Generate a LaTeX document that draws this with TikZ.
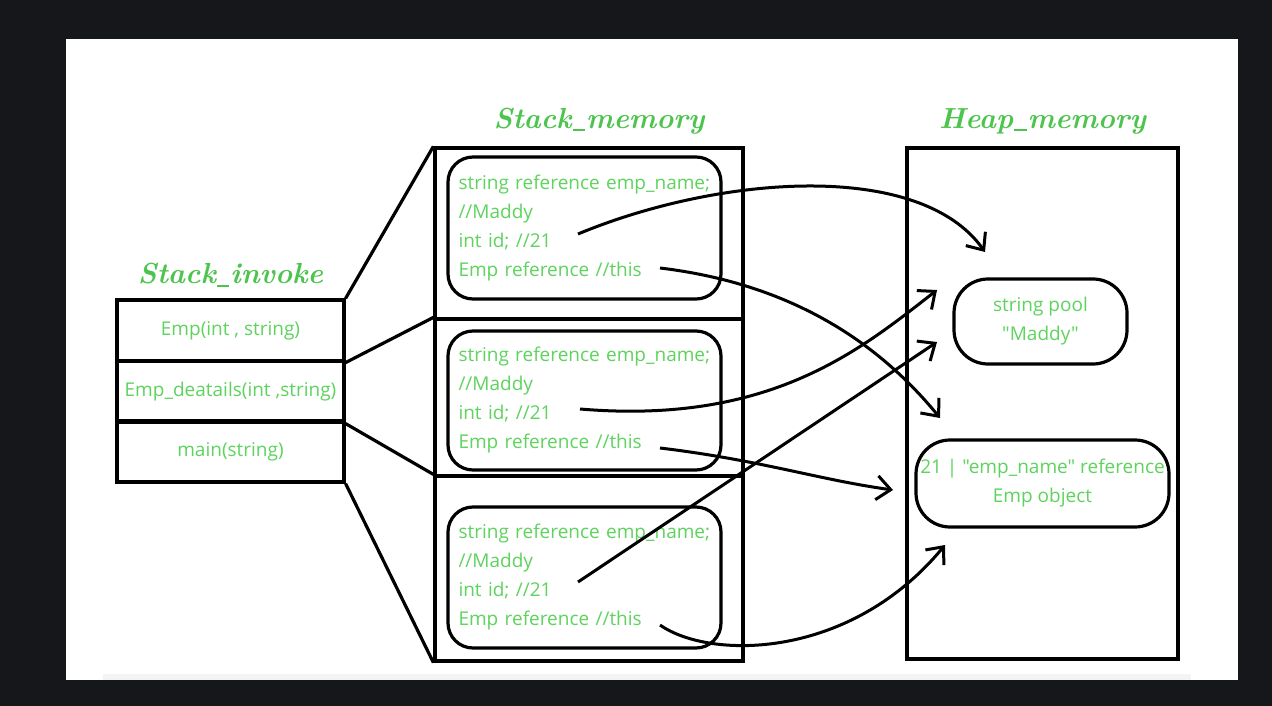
\documentclass[tikz,border=0pt]{standalone}
\usepackage{fontspec}
\usepackage{xcolor}
\usetikzlibrary{positioning}
\usetikzlibrary{arrows.meta}
\newfontfamily\bodyfont{Open Sans}
\definecolor{cgreen}{HTML}{5ED35E}
\definecolor{ctitle}{HTML}{4DC44D}
\definecolor{cdark}{HTML}{16171B}
\definecolor{cstrip}{HTML}{F4F4F4}
\newcommand{\uscore}{\kern0.04em\rule[-0.1em]{0.42em}{0.06em}\kern0.04em}

\begin{document}
\begin{tikzpicture}[x=1pt, y=-1pt]
    \tikzset{
        callrow/.style={rectangle, draw, line width=3.2pt, minimum width=227pt, minimum height=61pt, inner sep=0pt, font=\bodyfont\fontsize{19}{22}\selectfont, text=cgreen},
        memframe/.style={rectangle, draw, line width=3.2pt, minimum width=308pt, inner sep=0pt},
        slot/.style={rectangle, rounded corners=25pt, draw, line width=3.2pt, minimum width=273pt, text width=260pt, align=left, inner sep=0pt, execute at begin node={\leftskip=4pt}, font=\bodyfont\fontsize{19}{29}\selectfont, text=cgreen},
        heapobj/.style={rectangle, rounded corners=34pt, draw, line width=3.2pt, align=center, inner sep=0pt, font=\bodyfont\fontsize{19}{29}\selectfont, text=cgreen},
        memtitle/.style={font=\fontsize{29}{30}\selectfont\bfseries\itshape, text=ctitle},
        link/.style={draw, line width=3.2pt},
        pointer/.style={draw, line width=3pt, -{Straight Barb[length=14pt, width=24pt, line width=3pt]}}
    }

    \fill[cdark] (0,0) rectangle (1272,706);
    \fill[white] (66,39) rectangle (1238,680);
    \fill[cstrip] (103,674) rectangle (1191,680);

    % call stack
    \node[callrow] (emp) at (230.5,330.5) {Emp(int , string)};
    \node[callrow] (details) at (230.5,391.5) {Emp\_deatails(int ,string)};
    \node[callrow] (mainrow) at (230.5,451.5) {main(string)};
    \node[memtitle, above=8pt of emp] (invoke_title) {Stack\uscore invoke};

    % stack frames
    \node[memframe, minimum height=171pt] (frame1) at (589,233.5) {};
    \node[memframe, minimum height=157pt] (frame2) at (589,397.5) {};
    \node[memframe, minimum height=185pt] (frame3) at (589,568.5) {};
    \node[memtitle, above=9pt of frame1, xshift=10pt] (stack_title) {Stack\uscore memory};

    \node[slot, minimum height=142pt] (slot1) at (584.5,228) {string reference emp\_name;\\//Maddy\\int id; //21\\Emp reference //this};
    \node[slot, minimum height=139pt] (slot2) at (584.5,400.5) {string reference emp\_name;\\//Maddy\\int id; //21\\Emp reference //this};
    \node[slot, minimum height=141pt] (slot3) at (584.5,577.5) {string reference emp\_name;\\//Maddy\\int id; //21\\Emp reference //this};

    % heap
    \node[memframe, minimum width=271pt, minimum height=511pt] (heap) at (1042.5,403.5) {};
    \node[memtitle, above=9pt of heap] (heap_title) {Heap\uscore memory};
    \node[heapobj, minimum width=173pt, minimum height=85pt] (pool) at (1040.5,321.5) {string pool\\"Maddy"};
    \node[heapobj, minimum width=253pt, minimum height=87pt] (object) at (1042.5,483.5) {21 | "emp\_name" reference\\Emp object};

    \path[link] (emp.north east) -- (frame1.north west);
    \path[link] (emp.south east) -- (frame2.north west);
    \path[link] (details.south east) -- (frame3.north west);
    \path[link] (mainrow.south east) -- (frame3.south west);

    \coordinate (id1) at (578,234);
    \coordinate (this1) at (660,268);
    \coordinate (id2) at (580,409);
    \coordinate (this2) at (660,448);
    \coordinate (id3) at (578,582);
    \coordinate (this3) at (660,625);
    \coordinate (pool_top) at (985,252);
    \coordinate (pool_in1) at (937,290);
    \coordinate (pool_in2) at (937,342);
    \coordinate (obj_top) at (940,418);
    \coordinate (obj_left) at (893,490);
    \coordinate (obj_bottom) at (945,545);

    \path[pointer] (id1) .. controls (720,175) and (920,160) .. (pool_top);
    \path[pointer] (this1) .. controls (760,280) and (860,320) .. (obj_top);
    \path[pointer] (id2) .. controls (770,425) and (860,350) .. (pool_in1);
    \path[pointer] (this2) .. controls (760,460) and (820,480) .. (obj_left);
    \path[pointer] (id3) -- (pool_in2);
    \path[pointer] (this3) .. controls (710,660) and (850,660) .. (obj_bottom);
\end{tikzpicture}
\end{document}
